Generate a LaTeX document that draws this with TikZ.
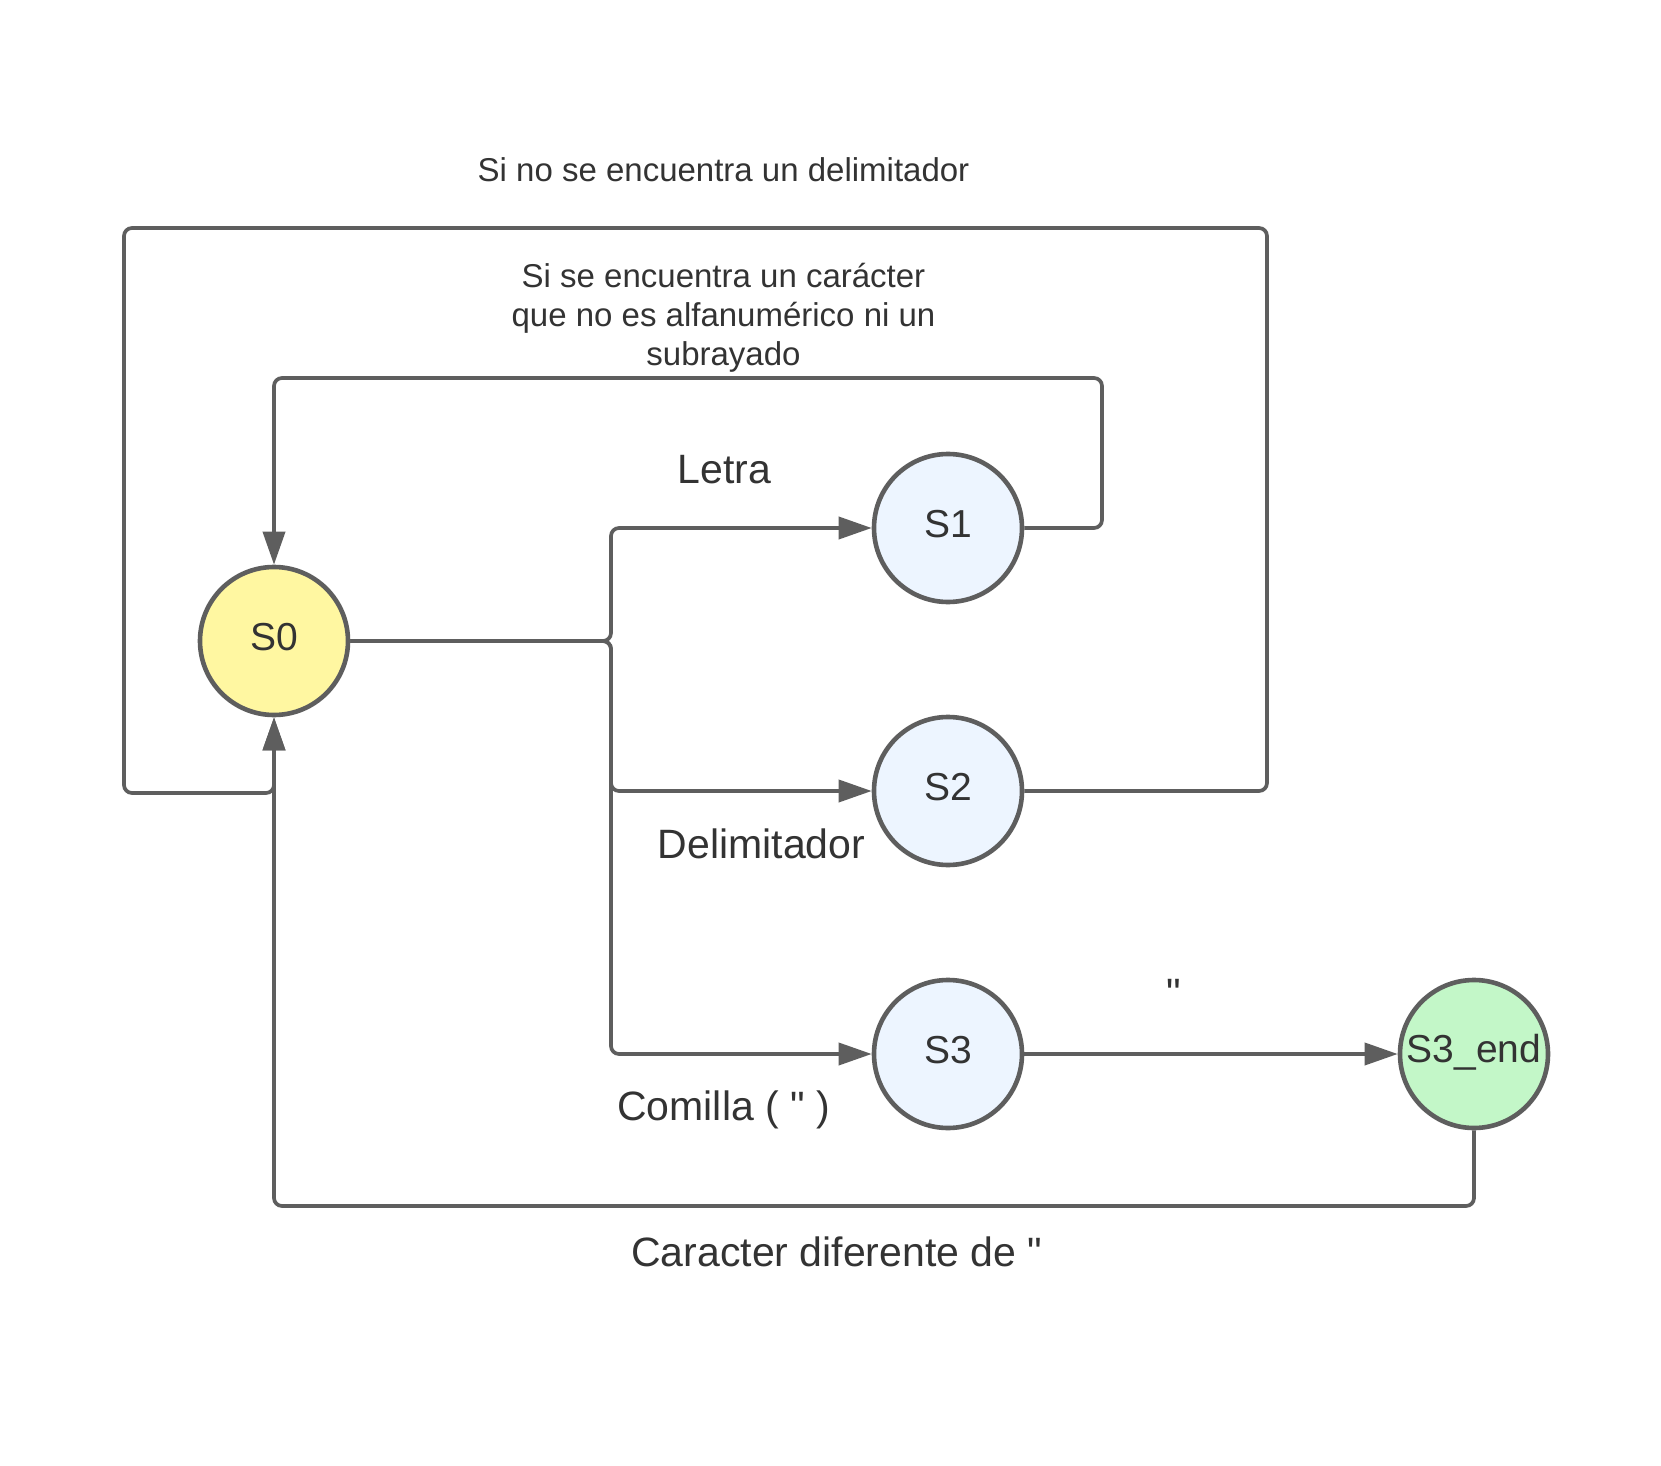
\documentclass[tikz,border=0pt]{standalone}
\usepackage{fontspec}
\newfontfamily\lsans{Liberation Sans}
\usetikzlibrary{arrows.meta}
\definecolor{lc}{HTML}{5E5E5E}
\definecolor{tc}{HTML}{333333}
\definecolor{yel}{HTML}{FFF7A1}
\definecolor{blu}{HTML}{EDF5FF}
\definecolor{grn}{HTML}{C3F7C8}
\begin{document}
\begin{tikzpicture}[x=0.5pt,y=-0.5pt,
 state/.style={circle,draw=lc,line width=2.3pt,minimum size=74pt,inner sep=0pt,text=tc,font=\lsans\fontsize{19.5}{22}\selectfont},
 slab/.style={text=tc,font=\lsans\fontsize{19.5}{22}\selectfont,inner sep=0pt},
 conn/.style={draw=lc,line width=1.85pt,rounded corners=4pt,-{Triangle[length=16.5pt,width=11pt]}},
 lab/.style={text=tc,font=\lsans\fontsize{20.5}{24}\selectfont,inner sep=0pt,anchor=base},
 small/.style={text=tc,font=\lsans\fontsize{16.5}{19.5}\selectfont,inner sep=0pt,anchor=base,align=center}]
\useasboundingbox (0,0) rectangle (1661,1466);
\fill[white] (0,0) rectangle (1661,1466);
\node[state,fill=yel] (S0) at (274,641) {};
\node[state,fill=blu] (S1) at (948,528) {};
\node[state,fill=blu] (S2) at (948,791) {};
\node[state,fill=blu] (S3) at (948,1054) {};
\node[state,fill=grn] (S3e) at (1474,1054) {};
\node[slab] (t0) at ([yshift=2pt]S0.center) {S0};
\node[slab] (t1) at ([yshift=2pt]S1.center) {S1};
\node[slab] (t2) at ([yshift=2pt]S2.center) {S2};
\node[slab] (t3) at ([yshift=2pt]S3.center) {S3};
\node[slab] (t4) at ([yshift=1pt]S3e.center) {S3\_end};
\coordinate (j) at (611,641);
\coordinate (a1) at (1102,378);
\coordinate (a2) at (1267,228);
\coordinate (a3) at (124,793);
\coordinate (a4) at (274,1206);
\draw[conn] (S0.east) -- (j) |- (S1.west);
\draw[conn] (S0.east) -- (j) |- (S2.west);
\draw[conn] (S0.east) -- (j) |- (S3.west);
\draw[conn] (S3) -- (S3e);
\draw[conn] (S1.east) -| (a1) -| (S0.north);
\draw[conn] (S2.east) -| (a2) -| (a3) -| (S0.south);
\draw[conn] (S3e.south) |- (a4) -- (S0.south);
\node[small] (l1) at (723.5,182) {Si no se encuentra un delimitador};
\node[small] (l2) at (723.5,365.5) {Si se encuentra un carácter\\que no es alfanumérico ni un\\subrayado};
\node[lab] (l3) at (724.5,483) {Letra};
\node[lab] (l4) at (761.6,858) {Delimitador};
\node[lab] (l5) at (723.7,1120) {Comilla ( " )};
\node[lab] (l6) at (1174,1007) {"};
\node[lab] (l7) at (836.8,1266) {Caracter diferente de "};
\end{tikzpicture}
\end{document}
